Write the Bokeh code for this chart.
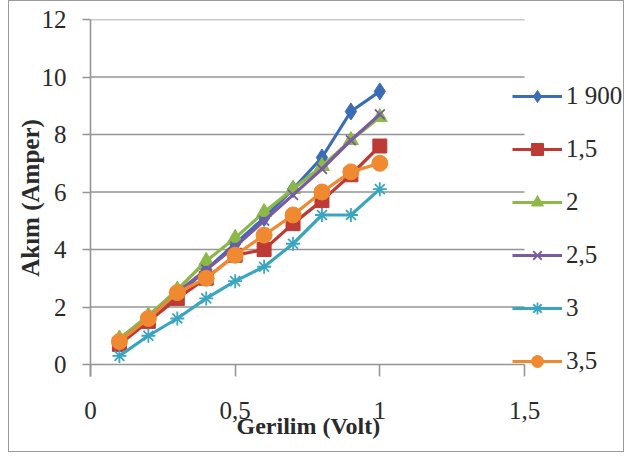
from bokeh.plotting import figure
from bokeh.models import Range1d, FixedTicker, Legend, LegendItem, Title
from bokeh.embed import file_html
from bokeh.resources import INLINE

volt = [0.1, 0.2, 0.3, 0.4, 0.5, 0.6, 0.7, 0.8, 0.9, 1.0]
s_1900 = [0.8, 1.6, 2.4, 3.3, 4.2, 5.1, 6.1, 7.2, 8.8, 9.5]
s_15 = [0.7, 1.5, 2.3, 3.0, 3.8, 4.0, 4.9, 5.7, 6.6, 7.6]
s_2 = [0.9, 1.7, 2.6, 3.6, 4.4, 5.3, 6.1, 6.9, 7.8, 8.6]
s_25 = [0.8, 1.6, 2.5, 3.3, 4.1, 5.0, 5.9, 6.8, 7.8, 8.7]
s_3 = [0.3, 1.0, 1.6, 2.3, 2.9, 3.4, 4.2, 5.2, 5.2, 6.1]
s_35 = [0.8, 1.6, 2.5, 3.0, 3.8, 4.5, 5.2, 6.0, 6.7, 7.0]
series_names = ["1 900", "1,5", "2", "2,5", "3", "3,5"]
x_ticks = [0, 0.5, 1, 1.5]
x_tick_labels = ["0", "0,5", "1", "1,5"]
y_ticks = [0, 2, 4, 6, 8, 10, 12]

series = [s_1900, s_15, s_2, s_25, s_3, s_35]
colors = ["#3a6db5", "#bd3b35", "#8cb848", "#7a5aa3", "#3aa5c0", "#f08a30"]
markers = ["diamond", "square", "triangle", "x", "asterisk", "circle"]
sizes = [17, 14, 15, 14, 14, 16]

FONT = "'Liberation Serif', serif"
GRID = "#959595"
TEXT = "#2a2a2a"

W, H = 616, 452
LEFT, TOP = 81, 18
PLOT_W, PLOT_H = 434, 345     # pixel extent of x in [0,1.5] and y in [0,12]
EXT = 12                      # frame extends below y=0 so the legend is not clipped
frame_w = W - LEFT
x_end = x_ticks[-1] * frame_w / PLOT_W
y_start = -EXT * y_ticks[-1] / PLOT_H
BOTTOM = H - TOP - PLOT_H - EXT

p = figure(width=W, height=H, output_backend="svg", toolbar_location=None,
           x_range=Range1d(x_ticks[0], x_end), y_range=Range1d(y_start, y_ticks[-1]),
           min_border_left=LEFT, min_border_right=0, min_border_top=TOP,
           min_border_bottom=BOTTOM)
p.styles = {"border": "1px solid #9a9a9a", "margin-left": "8px"}
p.outline_line_color = None
p.background_fill_color = "white"
p.border_fill_color = "white"

p.xgrid.grid_line_color = None
p.ygrid.grid_line_color = None
# horizontal gridlines limited to the x axis extent (0 .. 1.5)
p.segment(x0=[x_ticks[0]] * len(y_ticks), x1=[x_ticks[-1]] * len(y_ticks),
          y0=y_ticks, y1=y_ticks, line_color=GRID, line_width=1.6)

p.xaxis.ticker = FixedTicker(ticks=x_ticks)
p.xaxis.major_label_overrides = {t: l for t, l in zip(x_ticks, x_tick_labels)}
p.yaxis.ticker = FixedTicker(ticks=y_ticks)

for ax in (p.xaxis[0], p.yaxis[0]):
    ax.axis_line_color = GRID
    ax.axis_line_width = 1.6
    ax.major_tick_line_color = GRID
    ax.major_tick_line_width = 1.6
    ax.major_tick_in = 0
    ax.major_tick_out = 8
    ax.minor_tick_line_color = None
    ax.major_label_text_font = FONT
    ax.major_label_text_font_size = "25px"
    ax.major_label_text_color = TEXT
    ax.axis_label_text_font = FONT
    ax.axis_label_text_font_style = "bold"
    ax.axis_label_text_color = TEXT

# x axis sits at the frame bottom; ticks reach up to the y=0 line
p.xaxis.axis_line_color = None
p.xaxis.major_tick_in = EXT
p.xaxis.major_tick_out = 0
p.xaxis.major_label_standoff = 25

p.yaxis.major_label_standoff = 16
p.yaxis.axis_label = "Akım (Amper)"
p.yaxis.axis_label_text_font_size = "25px"
p.yaxis.axis_label_standoff = -5

xtitle = Title(text="Gerilim (Volt)", align="left", offset=146, standoff=-18,
               vertical_align="top", text_font=FONT, text_font_style="bold",
               text_font_size="24px", text_color=TEXT)
p.add_layout(xtitle, "below")

items = []
for name, ys, c, m, s in zip(series_names, series, colors, markers, sizes):
    r1 = p.line(volt, ys, line_color=c, line_width=3.2)
    if m in ("x", "asterisk"):
        r2 = p.scatter(volt, ys, marker=m, size=s, line_color=c, line_width=1.8)
    else:
        r2 = p.scatter(volt, ys, marker=m, size=s, fill_color=c, line_color=c)
    items.append(LegendItem(label=name, renderers=[r1, r2]))

legend = Legend(items=items, location=(422, 0), orientation="vertical",
                glyph_width=50, glyph_height=30, spacing=23, padding=0, margin=0,
                label_standoff=4, label_text_font=FONT, label_text_font_size="25px",
                label_text_color=TEXT, background_fill_alpha=0,
                border_line_alpha=0)
p.add_layout(legend, "center")

open("out.html", "w").write(file_html(p, INLINE))
